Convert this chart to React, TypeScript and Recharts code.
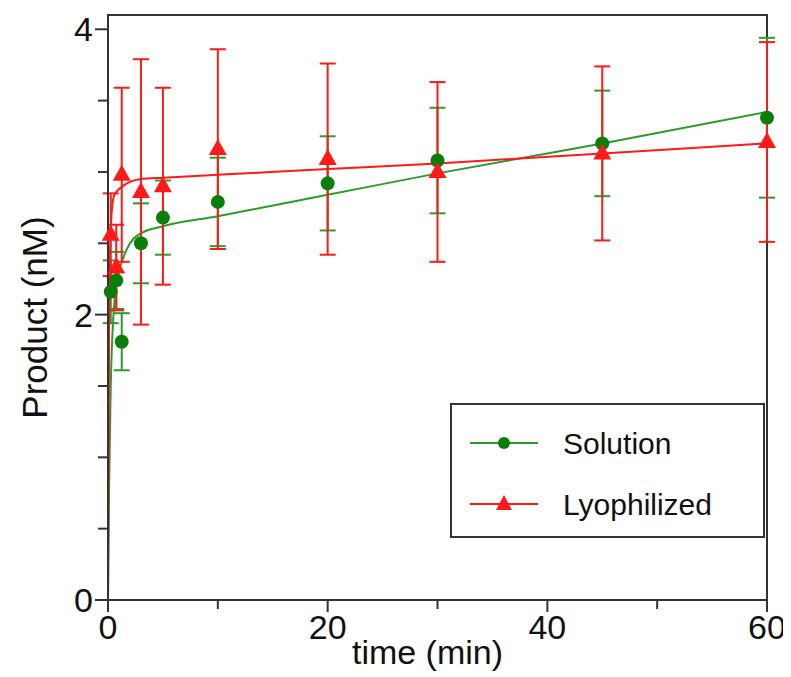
import React from 'react'
import {
  ComposedChart, Scatter, Line, XAxis, YAxis, ErrorBar, ReferenceArea, Legend
} from 'recharts';

// measured points (time in min)
const solTime = [0.25, 0.75, 1.25, 3, 5, 10, 20, 30, 45, 60];
const solMean = [2.16, 2.24, 1.81, 2.5, 2.68, 2.79, 2.92, 3.08, 3.2, 3.38];
const solErr = [0.22, 0.2, 0.2, 0.28, 0.26, 0.31, 0.33, 0.37, 0.37, 0.56];

const lyoTime = [0.25, 0.75, 1.25, 3, 5, 10, 20, 30, 45, 60];
const lyoMean = [2.56, 2.33, 2.98, 2.86, 2.9, 3.16, 3.09, 3.0, 3.13, 3.21];
const lyoErr = [0.29, 0.3, 0.61, 0.93, 0.69, 0.7, 0.67, 0.63, 0.61, 0.7];

// fitted curves
const fitTime = [0, 0.1, 0.25, 0.5, 0.75, 1, 1.5, 2, 3, 5, 10, 20, 30, 45, 60];
const solFit = [0, 0.8, 1.5, 2.0, 2.2, 2.3, 2.42, 2.5, 2.57, 2.62, 2.69, 2.84, 2.99, 3.2, 3.42];
const lyoFit = [0, 1.9, 2.6, 2.82, 2.86, 2.88, 2.91, 2.93, 2.95, 2.96, 2.98, 3.02, 3.06, 3.13, 3.2];

const xTicks = [0, 10, 20, 30, 40, 50, 60];
const xLabels = [0, 20, 40, 60];
const yTicks = [0, 0.5, 1, 1.5, 2, 2.5, 3, 3.5, 4];
const yLabels = [0, 2, 4];

const GREEN = '#0a7d0a';
const GREEN_LINE = '#2e9a2e';
const RED = '#ff1a1a';
const AXIS = '#333';
const FONT = '"Liberation Sans", Arial, sans-serif';

const solData = solTime.map((t, i) => ({ x: t, y: solMean[i], err: solErr[i] }));
const lyoData = lyoTime.map((t, i) => ({ x: t, y: lyoMean[i], err: lyoErr[i] }));
const solFitData = fitTime.map((t, i) => ({ x: t, y: solFit[i] }));
const lyoFitData = fitTime.map((t, i) => ({ x: t, y: lyoFit[i] }));

const Dot = (props: any) => <circle cx={props.cx} cy={props.cy} r={7} fill={GREEN} />;
const Tri = (props: any) => {
  const { cx, cy } = props;
  return <polygon points={`${cx},${cy - 10} ${cx - 9},${cy + 6} ${cx + 9},${cy + 6}`} fill={RED} />;
};

const XTick = (props: any) => {
  const { x, y, payload } = props;
  const v = payload.value;
  const major = xLabels.includes(v);
  return (
    <g>
      <line x1={x} x2={x} y1={y} y2={y + (major ? 12 : 9)} stroke={AXIS} strokeWidth={2} />
      {major && (
        <text x={x} y={y + 39} textAnchor="middle" fontSize={34} fontFamily={FONT} fill="#111">{v}</text>
      )}
    </g>
  );
};

const YTick = (props: any) => {
  const { x, y, payload } = props;
  const v = payload.value;
  const major = yLabels.includes(v);
  return (
    <g>
      <line x1={x - (major ? 13 : 10)} x2={x} y1={y} y2={y} stroke={AXIS} strokeWidth={2} />
      {major && (
        <text x={x - 15} y={y + 12} textAnchor="end" fontSize={34} fontFamily={FONT} fill="#111">{v}</text>
      )}
    </g>
  );
};

const LegendBox = () => (
  <div style={{ width: 315, height: 135, border: `2px solid ${AXIS}`, background: '#fff', boxSizing: 'border-box' }}>
    <svg width={313} height={133}>
      <line x1={18} x2={86} y1={38} y2={38} stroke={GREEN_LINE} strokeWidth={2} />
      <circle cx={52} cy={38} r={6} fill={GREEN} />
      <text x={111} y={49} fontSize={30} fontFamily={FONT} fill="#111">Solution</text>
      <line x1={18} x2={86} y1={99} y2={99} stroke={RED} strokeWidth={2} />
      <polygon points="52,90 44,105 60,105" fill={RED} />
      <text x={111} y={110} fontSize={30} fontFamily={FONT} fill="#111">Lyophilized</text>
    </svg>
  </div>
);

const App = () => {
  return (
    <ComposedChart width={780} height={669} margin={{ top: 7, right: 21, bottom: 0, left: 0 }}>
      <XAxis
        dataKey="x" type="number" domain={[0, 60]} ticks={xTicks}
        axisLine={{ stroke: AXIS, strokeWidth: 2 }} tickLine={false} tickSize={0} tickMargin={0}
        tick={<XTick />} height={77} interval={0}
        label={{ value: 'time (min)', position: 'insideBottom', dx: -10, dy: -8, fontSize: 34, fontFamily: FONT, fill: '#111' }}
      />
      <YAxis
        type="number" domain={[0, 4.1]} ticks={yTicks} allowDataOverflow
        axisLine={{ stroke: AXIS, strokeWidth: 2 }} tickLine={false} tickSize={0} tickMargin={0}
        tick={<YTick />} width={100} interval={0}
        label={{ value: 'Product (nM)', angle: -90, position: 'insideLeft', dx: 22, dy: 10, fontSize: 35, fontFamily: FONT, fill: '#111', style: { textAnchor: 'middle' } }}
      />
      <ReferenceArea x1={0} x2={60} y1={0} y2={4.1} fill="none" stroke={AXIS} strokeWidth={2} />
      <Line data={solFitData} dataKey="y" type="monotone" stroke={GREEN_LINE} strokeWidth={2} dot={false} isAnimationActive={false} />
      <Scatter data={solData} dataKey="y" shape={<Dot />} isAnimationActive={false}>
        <ErrorBar dataKey="err" direction="y" width={8} stroke={GREEN_LINE} strokeWidth={2} isAnimationActive={false} />
      </Scatter>
      <Line data={lyoFitData} dataKey="y" type="monotone" stroke={RED} strokeWidth={2} dot={false} isAnimationActive={false} />
      <Scatter data={lyoData} dataKey="y" shape={<Tri />} isAnimationActive={false}>
        <ErrorBar dataKey="err" direction="y" width={8} stroke={RED} strokeWidth={2} isAnimationActive={false} />
      </Scatter>
      <Legend
        layout="horizontal" align="center" verticalAlign="middle"
        wrapperStyle={{ top: 395, left: 442, width: 315 }}
        content={() => <LegendBox />}
      />
    </ComposedChart>
  );
};

export default App;
